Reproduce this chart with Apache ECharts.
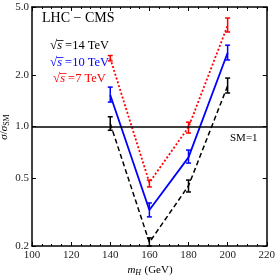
<!DOCTYPE html>
<html><head><meta charset="utf-8">
<script src="https://cdn.jsdelivr.net/npm/echarts@6/dist/echarts.min.js"></script>
<style>html,body{margin:0;padding:0;background:#fff}#c{width:278px;height:278px}</style>
</head><body><div id="c"></div>
<script>
// Higgs masses (GeV)
const masses = [140, 160, 180, 200];
// sigma/sigma_SM central values and error bar ends
const val14 = [1.04, 0.21, 0.45, 1.73];
const lo14  = [0.95, 0.20, 0.414, 1.57];
const hi14  = [1.14, 0.223, 0.486, 1.92];
const val10 = [1.53, 0.325, 0.66, 2.7];
const lo10  = [1.39, 0.296, 0.611, 2.45];
const hi10  = [1.70, 0.357, 0.728, 2.99];
const val7  = [2.5, 0.47, 0.99, 3.9];
const lo7   = [2.42, 0.443, 0.916, 3.57];
const hi7   = [2.6, 0.486, 1.06, 4.31];
const yTicks = [0.2, 0.5, 1.0, 2.0, 5.0];
const smLine = 1.0;

const FONT = 'Liberation Serif';
const pts = (v) => masses.map((m, i) => [m, v[i]]);
const bars = (lo, hi) => masses.map((m, i) => [m, lo[i], hi[i]]);

function errBar(color) {
  return function (params, api) {
    const x = api.value(0);
    const p1 = api.coord([x, api.value(1)]);
    const p2 = api.coord([x, api.value(2)]);
    const w = 2.5;
    const st = { stroke: color, lineWidth: 1.5 };
    return { type: 'group', children: [
      { type: 'line', shape: { x1: p1[0], y1: p1[1], x2: p2[0], y2: p2[1] }, style: st },
      { type: 'line', shape: { x1: p1[0] - w, y1: p1[1], x2: p1[0] + w, y2: p1[1] }, style: st },
      { type: 'line', shape: { x1: p2[0] - w, y1: p2[1], x2: p2[0] + w, y2: p2[1] }, style: st }
    ]};
  };
}

function legendText(left, top, label, color) {
  return { type: 'group', left: left, top: top, children: [
    { type: 'text', x: 0, y: 0, style: {
      text: '{r|√}{s|s} {t|' + label + '}', fill: color, font: '12.5px "Liberation Serif"',
      rich: { r: { fontFamily: FONT, fontSize: 13, fill: color },
              s: { fontFamily: FONT, fontStyle: 'italic', fontSize: 12.5, fill: color },
              t: { fontFamily: FONT, fontSize: 12.5, fill: color } } } },
    { type: 'line', shape: { x1: 6.5, y1: 1.5, x2: 13.5, y2: 1.5 }, style: { stroke: color, lineWidth: 0.8 } }
  ]};
}

const chart = echarts.init(document.getElementById('c'), null, { renderer: 'canvas' });
const axLine = { show: true, lineStyle: { color: '#000', width: 1.5 } };
const xCommon = {
  type: 'value', min: 100, max: 220, interval: 20,
  axisLine: axLine,
  axisTick: { show: true, inside: true, length: 4, lineStyle: { color: '#000', width: 1 } },
  minorTick: { show: true, splitNumber: 4, length: 2, lineStyle: { color: '#000', width: 1 } },
  splitLine: { show: false }
};
const yCommon = {
  type: 'log', min: 0.2, max: 5, logBase: 10,
  axisLine: axLine,
  axisTick: { show: true, inside: true, length: 4, customValues: yTicks, lineStyle: { color: '#000', width: 1 } },
  splitLine: { show: false }
};

chart.setOption({
  animation: false,
  backgroundColor: '#fff',
  grid: { left: 32, right: 10, top: 7, bottom: 32 },
  xAxis: [
    Object.assign({}, xCommon, { position: 'bottom',
      axisLabel: { show: true, color: '#222', fontFamily: FONT, fontSize: 11, margin: 4 } }),
    Object.assign({}, xCommon, { position: 'top', axisLabel: { show: false } })
  ],
  yAxis: [
    Object.assign({}, yCommon, { position: 'left',
      axisLabel: { show: true, customValues: yTicks, color: '#222', fontFamily: FONT, fontSize: 11, margin: 3,
        formatter: (v) => Number(v).toFixed(1) } }),
    Object.assign({}, yCommon, { position: 'right', axisLabel: { show: false } })
  ],
  series: [
    { type: 'line', data: pts(val14), showSymbol: false, symbol: 'none',
      lineStyle: { color: '#000', width: 1.5, type: [5, 3] }, z: 3,
      markLine: { silent: true, symbol: 'none', label: { show: false },
        lineStyle: { color: '#000', width: 1.5, type: 'solid' }, data: [{ yAxis: smLine }] } },
    { type: 'line', data: pts(val10), showSymbol: false, symbol: 'none',
      lineStyle: { color: '#0000ff', width: 1.8, type: 'solid' }, z: 3 },
    { type: 'line', data: pts(val7), showSymbol: false, symbol: 'none',
      lineStyle: { color: '#ff0000', width: 1.8, type: [2, 2] }, z: 3 },
    { type: 'custom', data: bars(lo14, hi14), renderItem: errBar('#000'), z: 4 },
    { type: 'custom', data: bars(lo10, hi10), renderItem: errBar('#0000ff'), z: 4 },
    { type: 'custom', data: bars(lo7, hi7), renderItem: errBar('#ff0000'), z: 4 }
  ],
  graphic: [
    { type: 'text', left: 42, top: 11, style: { text: 'LHC − CMS', font: '14px "Liberation Serif"', fill: '#000' } },
    legendText(50, 38, '=14 TeV', '#000'),
    legendText(50, 55, '=10 TeV', '#0000ff'),
    legendText(53, 71, '=7 TeV', '#ff0000'),
    { type: 'text', left: 230, top: 133, style: { text: 'SM=1', font: '11px "Liberation Serif"', fill: '#000' } },
    { type: 'text', x: 4, y: 127, rotation: Math.PI / 2, style: {
      text: '{i|σ}{n|/}{i|σ}{sub|SM}', align: 'center', verticalAlign: 'middle',
      rich: { i: { fontFamily: FONT, fontStyle: 'italic', fontSize: 11, fill: '#000' },
              n: { fontFamily: FONT, fontSize: 11, fill: '#000' },
              sub: { fontFamily: FONT, fontSize: 8, fill: '#000', padding: [5, 0, 0, 0] } } } },
    { type: 'text', x: 150, y: 270, style: {
      text: '{i|m}{sub|H} {n|(GeV)}', align: 'center', verticalAlign: 'middle',
      rich: { i: { fontFamily: FONT, fontStyle: 'italic', fontSize: 11, fill: '#000' },
              n: { fontFamily: FONT, fontSize: 11, fill: '#000' },
              sub: { fontFamily: FONT, fontStyle: 'italic', fontSize: 8, fill: '#000', padding: [5, 0, 0, 0] } } } }
  ]
});
</script>
</body></html>
